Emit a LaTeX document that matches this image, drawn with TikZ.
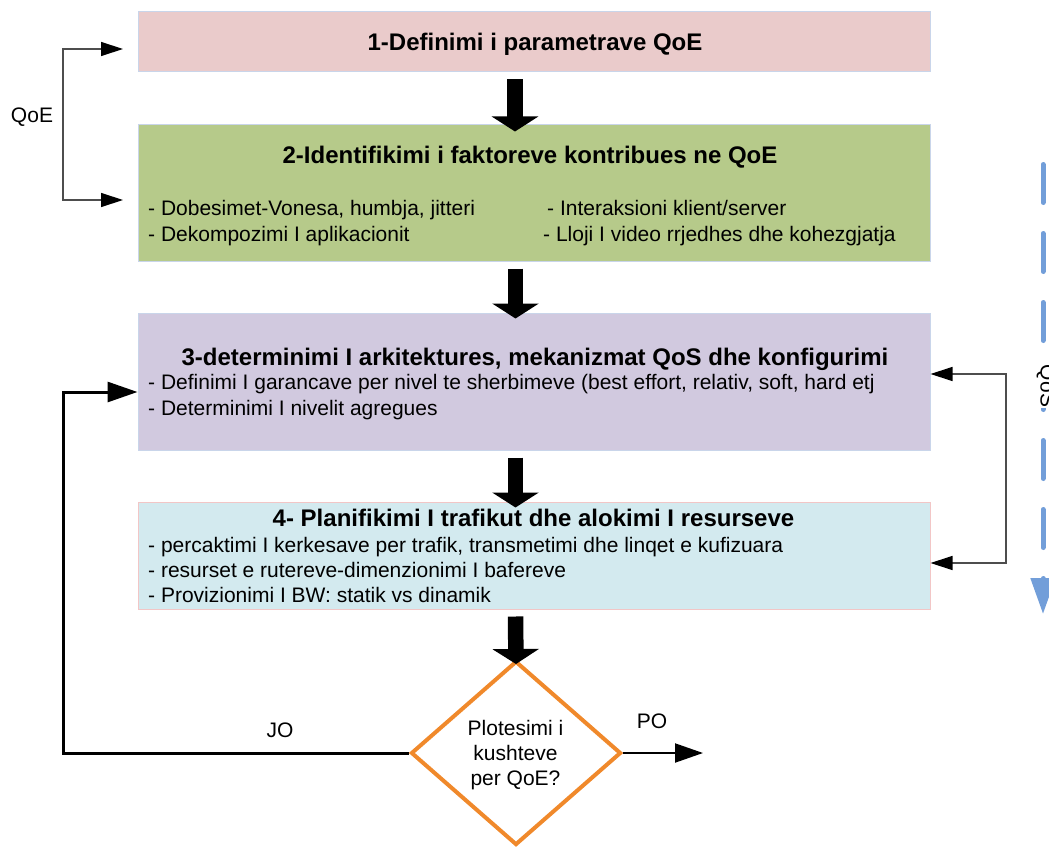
\documentclass[tikz,border=0pt]{standalone}
\usepackage{fontspec}
\setmainfont{Liberation Sans}
\usetikzlibrary{arrows.meta,shapes.geometric}

\definecolor{pinkfill}{HTML}{EACBCB}
\definecolor{greenfill}{HTML}{B6CA8A}
\definecolor{lavfill}{HTML}{D1C9DF}
\definecolor{cyanfill}{HTML}{D3EAEF}
\definecolor{edgeblue}{HTML}{C9D5EA}
\definecolor{edgepink}{HTML}{F2C6C6}
\definecolor{decorange}{HTML}{F0892B}
\definecolor{flowblue}{HTML}{729ED9}
\definecolor{thingray}{HTML}{4D4D4D}

\begin{document}
\begin{tikzpicture}[x=1pt,y=-1pt,
  stage/.style={draw=edgeblue, line width=1pt, minimum width=792pt, inner sep=0pt},
  title/.style={font=\fontsize{24}{28}\selectfont\bfseries, inner sep=0pt,
    text height=17pt, text depth=0pt},
  item/.style={font=\fontsize{21}{25}\selectfont, inner sep=0pt,
    text height=15pt, text depth=0pt, anchor=west},
  tag/.style={font=\fontsize{21}{25}\selectfont, inner sep=0pt},
  blockarrow/.style={line width=15.5pt, -{Triangle[length=15pt,width=46pt]}},
  loopline/.style={line width=3pt, -{Triangle[length=30pt,width=20pt]}},
  thinline/.style={draw=thingray, line width=1.3pt,
    {Triangle[length=22pt,width=14pt,color=black]}-{Triangle[length=22pt,width=14pt,color=black]}},
]
\useasboundingbox (0,0) rectangle (1049,848);

% process stages
\node[stage, fill=pinkfill, minimum height=60pt] (b1) at (534,42) {};
\node[stage, fill=greenfill, minimum height=136pt] (b2) at (534,193) {};
\node[stage, fill=lavfill, minimum height=137pt] (b3) at (534,381.5) {};
\node[stage, fill=cyanfill, draw=edgepink, minimum height=107pt] (b4) at (534,555.5) {};

\node[title] (t1) at (535,42) {1-Definimi i parametrave QoE};
\node[title] (t2) at (530,155) {2-Identifikimi i faktoreve kontribues ne QoE};
\node[title] (t3) at (535,357) {3-determinimi I arkitektures, mekanizmat QoS dhe konfigurimi};
\node[title] (t4) at (533.5,518) {4- Planifikimi I trafikut dhe alokimi I resurseve};

\node[item] (i21) at (148,208) {- Dobesimet-Vonesa, humbja, jitteri};
\node[item] (i22) at (547,208) {- Interaksioni klient/server};
\node[item] (i23) at (148,234) {- Dekompozimi I aplikacionit};
\node[item] (i24) at (543,234) {- Lloji I video rrjedhes dhe kohezgjatja};

\node[item] (i31) at (148,382) {- Definimi I garancave per nivel te sherbimeve (best effort, relativ, soft, hard etj};
\node[item] (i32) at (148,408) {- Determinimi I nivelit agregues};

\node[item] (i41) at (148,545) {- percaktimi I kerkesave per trafik, transmetimi dhe linqet e kufizuara};
\node[item] (i42) at (148,570) {- resurset e rutereve-dimenzionimi I bafereve};
\node[item] (i43) at (148,595) {- Provizionimi I BW: statik vs dinamik};

% decision
\node[diamond, draw=decorange, line width=4pt, minimum width=210pt,
      minimum height=184pt, inner sep=0pt] (dia) at (516,753) {};
\node[tag, align=center, font=\fontsize{21}{25}\selectfont] (dtext) at (515.5,755)
  {Plotesimi i\\kushteve\\per QoE?};

% block arrows between stages
\draw[blockarrow] ([xshift=-19pt,yshift=-7pt]b1.south) -- ([xshift=-19pt,yshift=-7pt]b2.north);
\draw[blockarrow] ([xshift=-18.5pt,yshift=-7pt]b2.south) -- ([xshift=-18.5pt,yshift=-6pt]b3.north);
\draw[blockarrow] ([xshift=-18.5pt,yshift=-7pt]b3.south) -- ([xshift=-18.5pt,yshift=-6pt]b4.north);
\draw[blockarrow] ([xshift=-18.5pt,yshift=-7pt]b4.south) -- ([yshift=-5pt]dia.north);

% QoE bracket on the left
\coordinate (qoeTop) at (123,49);
\coordinate (qoeBot) at (123,200);
\draw[thinline] (qoeTop) -- (63,49) -- (63,200) -- (qoeBot);
\node[tag] (qoe) at (32,117) {QoE};

% loop back when the conditions are not met
\draw[loopline] (dia.west) -| (63,392) -- (b3.west |- 0,392);
\node[tag] (jo) at (280,730) {JO};

% exit when the conditions are met
\coordinate (poEnd) at (703,753);
\draw[line width=2pt, -{Triangle[length=28pt,width=19pt]}] (dia.east) -- (poEnd);
\node[tag] (po) at (652,721) {PO};

% feedback between stages 3 and 4
\draw[thinline] (b3.east |- 0,374) -- (1006,374) -- (1006,563) -- (b4.east |- 0,563);

% QoS flow on the right edge
\coordinate (qosTop) at (1043,164.5);
\coordinate (qosEnd) at (1043,614);
\draw[flowblue, line width=5pt, line cap=round, dash pattern=on 38pt off 31pt,
      -{Triangle[length=36pt,width=24pt]}] (qosTop) -- (qosEnd);
\node[tag, fill=white, rotate=-90, inner sep=1pt] (qos) at (1046,386) {QoS};
\end{tikzpicture}
\end{document}
